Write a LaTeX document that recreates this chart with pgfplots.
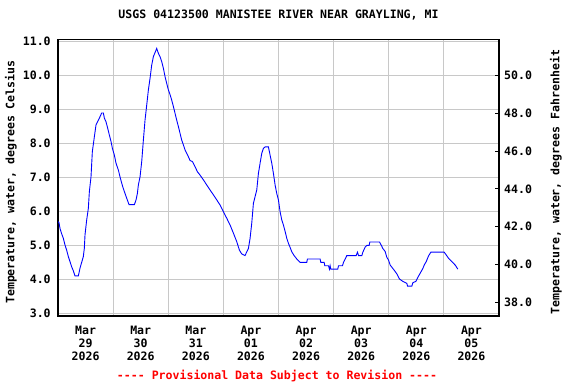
\documentclass[border=0pt]{standalone}
\usepackage{pgfplots}
\pgfplotsset{compat=1.18}
\usepackage{fontspec}
\setmainfont{DejaVu Sans Mono}
\setmonofont{DejaVu Sans Mono}
\definecolor{gridgray}{RGB}{200,200,200}
\newcommand{\cf}{\fontsize{11.6}{13}\selectfont\ttfamily\bfseries}
\begin{document}
\begin{tikzpicture}
\useasboundingbox (0,0) rectangle (576bp,384bp);
\begin{axis}[
  at={(58bp,68bp)}, anchor=south west,
  scale only axis, width=441bp, height=276.7bp,
  xmin=0, xmax=192, ymin=2.92, ymax=11.071,
  xtick={12,36,...,180},
  xticklabels={{Mar\\29\\2026},{Mar\\30\\2026},{Mar\\31\\2026},{Apr\\01\\2026},{Apr\\02\\2026},{Apr\\03\\2026},{Apr\\04\\2026},{Apr\\05\\2026}},
  minor xtick={0,24,...,192},
  xmajorgrids=false, xminorgrids=true, ymajorgrids=true,
  major grid style={draw=gridgray, line width=1bp},
  minor grid style={draw=gridgray, line width=1bp},
  major tick length=0pt, minor tick length=0pt,
  ytick={3,4,...,11}, ytick pos=left,
  axis line style={line width=1.2bp, black},
  tick label style={font=\cf},
  xticklabel style={align=center, anchor=north, yshift=-6.5bp},
  yticklabel style={/pgf/number format/.cd, fixed, fixed zerofill, precision=1, assume math mode=true, /tikz/.cd, xshift=-3.8bp},
  ylabel={Temperature, water, degrees Celsius},
  ylabel style={font=\cf, at={(axis description cs:-0.1066,0.484)}, anchor=center},
  title={USGS 04123500 MANISTEE RIVER NEAR GRAYLING, MI},
  title style={font=\cf, at={(axis description cs:0.5,1)}, anchor=base, yshift=15.1bp},
]
\addplot[blue, line width=0.9bp] coordinates {
(0.00,5.70) (0.44,5.67) (0.87,5.50) (1.60,5.34) (2.32,5.21) (3.05,5.01) (3.77,4.86) (4.50,4.67)
(5.23,4.52) (5.95,4.37) (6.68,4.25) (7.40,4.10) (8.86,4.10) (9.58,4.33) (10.31,4.50)
(11.03,4.67) (11.47,4.92) (11.76,5.31) (12.49,5.75) (13.21,6.09) (13.65,6.58) (14.37,7.02)
(14.95,7.76) (15.83,8.20) (16.55,8.55) (17.57,8.69) (18.29,8.79) (19.02,8.90) (19.75,8.90)
(20.18,8.75) (20.91,8.64) (21.63,8.45) (22.36,8.25) (23.09,8.06) (23.67,7.86) (24.54,7.66)
(25.26,7.42) (26.28,7.22) (27.15,6.98) (28.17,6.73) (29.18,6.53) (29.91,6.39) (30.93,6.20)
(33.25,6.20) (33.98,6.34) (34.56,6.53) (34.99,6.78) (35.72,7.02) (36.45,7.47) (37.17,8.10)
(37.89,8.69) (38.62,9.13) (39.35,9.58) (40.07,9.92) (40.80,10.31) (41.52,10.56) (42.25,10.68)
(42.98,10.80) (43.70,10.66) (44.43,10.56) (45.16,10.41) (45.88,10.22) (46.61,9.97) (47.33,9.77)
(48.06,9.58) (48.79,9.44) (49.51,9.28) (50.24,9.09) (50.96,8.89) (51.69,8.69) (52.41,8.50)
(53.14,8.30) (53.87,8.10) (54.59,7.96) (55.32,7.81) (56.05,7.71) (56.77,7.61) (57.50,7.50)
(58.51,7.47) (59.67,7.32) (60.69,7.17) (61.85,7.07) (63.30,6.93) (64.76,6.78) (66.21,6.63)
(67.66,6.49) (69.11,6.34) (70.56,6.19) (72.02,5.99) (73.47,5.80) (74.92,5.60) (76.37,5.36)
(77.82,5.11) (78.98,4.86) (79.99,4.75) (81.45,4.70) (82.17,4.81) (82.90,4.91) (83.63,5.21)
(84.35,5.65) (85.08,6.24) (85.81,6.44) (86.53,6.63) (87.26,7.12) (87.98,7.42) (88.71,7.71)
(89.44,7.86) (90.16,7.90) (91.61,7.90) (92.34,7.66) (93.07,7.42) (93.79,7.12) (94.52,6.78)
(95.24,6.53) (95.97,6.34) (96.70,5.99) (97.42,5.75) (98.15,5.60) (98.88,5.41) (99.60,5.21)
(100.33,5.06) (101.06,4.94) (101.78,4.81) (102.80,4.70) (103.96,4.60) (105.41,4.50)
(108.31,4.50) (108.60,4.60) (114.12,4.60) (114.41,4.50) (115.87,4.50) (116.16,4.40)
(117.76,4.40) (118.19,4.30) (118.48,4.40) (118.77,4.30) (121.82,4.30) (122.11,4.40)
(123.86,4.40) (124.29,4.50) (125.02,4.60) (125.75,4.70) (129.81,4.70) (130.39,4.80)
(130.83,4.70) (132.28,4.70) (132.72,4.80) (133.73,4.95) (134.46,5.00) (135.47,5.00)
(135.76,5.10) (139.97,5.10) (140.70,5.01) (141.42,4.91) (142.44,4.82) (143.16,4.65)
(143.89,4.57) (144.62,4.42) (145.78,4.32) (146.80,4.23) (147.52,4.16) (148.68,4.01)
(150.13,3.94) (151.88,3.88) (152.17,3.80) (154.06,3.80) (154.49,3.90) (155.80,3.94)
(156.52,4.04) (157.68,4.18) (158.85,4.32) (159.43,4.42) (160.30,4.52) (161.32,4.69)
(162.33,4.80) (168.14,4.80) (169.01,4.72) (170.03,4.62) (171.48,4.52) (172.93,4.42) (174.09,4.30)
};
\end{axis}
\begin{axis}[
  at={(58bp,68bp)}, anchor=south west,
  scale only axis, width=441bp, height=276.7bp,
  xmin=0, xmax=192, ymin=37.256, ymax=51.928,
  axis x line=none, axis y line*=right,
  ytick={38,40,...,50}, ytick align=inside,
  major tick length=3.7bp,
  axis line style={line width=1.2bp, black, -},
  tick style={black, line width=0.8bp},
  tick label style={font=\cf},
  yticklabel style={/pgf/number format/.cd, fixed, fixed zerofill, precision=1, assume math mode=true, /tikz/.cd, anchor=west, xshift=1.7bp},
  ylabel={Temperature, water, degrees Fahrenheit},
  ylabel style={font=\cf, at={(axis description cs:1.129,0.484)}, anchor=center},
]
\end{axis}
\node[anchor=base, font=\cf, text=red] at (277bp,4.8bp) {---- Provisional Data Subject to Revision ----};
\end{tikzpicture}
\end{document}
